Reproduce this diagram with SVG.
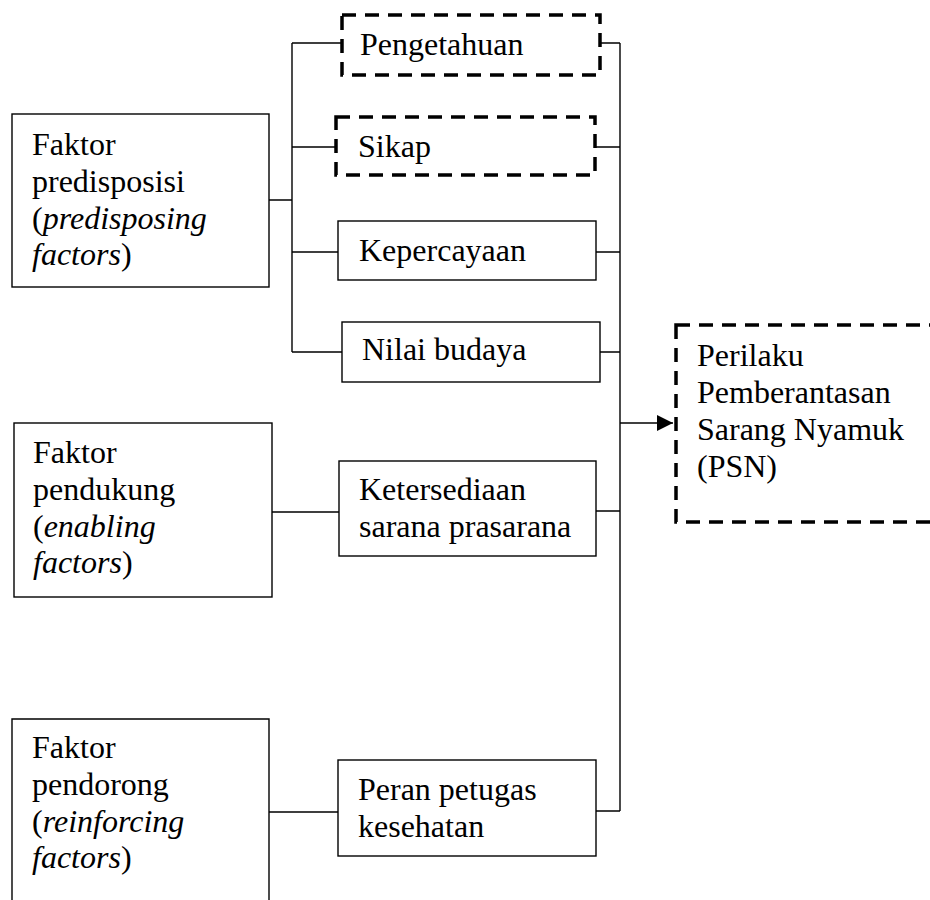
<svg xmlns="http://www.w3.org/2000/svg" width="930" height="900" viewBox="0 0 930 900">
<defs>
<style>
.box{fill:#fff;stroke:#000;stroke-width:1.4}
.dbox{fill:#fff;stroke:#000;stroke-width:3.5;stroke-dasharray:14 9}
.ln{fill:none;stroke:#000;stroke-width:1.4}
text{font-family:"Liberation Serif","Times New Roman",serif;font-size:32px;fill:#000}
.it{font-style:italic}
</style>
<marker id="arr" markerWidth="18" markerHeight="18" refX="16" refY="8" orient="auto" markerUnits="userSpaceOnUse">
<path d="M0,0 L16,8 L0,16 Z" fill="#000"/>
</marker>
</defs>
<rect width="930" height="900" fill="#fff"/>
<g id="connectors">
<path class="ln" d="M269,200 H292 M292,43 V352 M292,43 H342 M292,147 H336 M292,252 H338 M292,352 H342"/>
<path class="ln" d="M600,43 H620 M595,147 H620 M596,252 H620 M600,352 H620 M596,511 H620 M596,811 H620 M620,43 V811"/>
<path class="ln" d="M272,512 H339 M269,812 H338"/>
<path class="ln" d="M620,423 H673" marker-end="url(#arr)"/>
</g>
<g id="predisposisi">
<rect class="box" x="12" y="114" width="257" height="173"/>
<text x="32" y="155">Faktor</text>
<text x="32" y="192">predisposisi</text>
<text x="32" y="229">(<tspan class="it">predisposing</tspan></text>
<text x="32" y="265"><tspan class="it">factors</tspan>)</text>
</g>
<g id="pendukung">
<rect class="box" x="14" y="423" width="258" height="174"/>
<text x="33" y="463">Faktor</text>
<text x="33" y="500">pendukung</text>
<text x="33" y="537">(<tspan class="it">enabling</tspan></text>
<text x="33" y="573"><tspan class="it">factors</tspan>)</text>
</g>
<g id="pendorong">
<path class="ln" d="M12,902 V719 H269 V902"/>
<text x="32" y="758">Faktor</text>
<text x="32" y="795">pendorong</text>
<text x="32" y="832">(<tspan class="it">reinforcing</tspan></text>
<text x="32" y="868"><tspan class="it">factors</tspan>)</text>
</g>
<g id="pengetahuan">
<rect class="dbox" x="342" y="15" width="258" height="60"/>
<text x="360" y="55">Pengetahuan</text>
</g>
<g id="sikap">
<rect class="dbox" x="336" y="117" width="259" height="58"/>
<text x="358" y="157">Sikap</text>
</g>
<g id="kepercayaan">
<rect class="box" x="338" y="221" width="258" height="59"/>
<text x="359" y="261">Kepercayaan</text>
</g>
<g id="nilai">
<rect class="box" x="342" y="322" width="258" height="60"/>
<text x="362" y="360">Nilai budaya</text>
</g>
<g id="ketersediaan">
<rect class="box" x="339" y="461" width="257" height="95"/>
<text x="359" y="500">Ketersediaan</text>
<text x="359" y="537">sarana prasarana</text>
</g>
<g id="peran">
<rect class="box" x="338" y="760" width="258" height="96"/>
<text x="358" y="800">Peran petugas</text>
<text x="358" y="837">kesehatan</text>
</g>
<g id="psn">
<rect class="dbox" x="676" y="325" width="270" height="197"/>
<text x="697" y="366">Perilaku</text>
<text x="697" y="403">Pemberantasan</text>
<text x="697" y="440">Sarang Nyamuk</text>
<text x="697" y="477">(PSN)</text>
</g>
</svg>
